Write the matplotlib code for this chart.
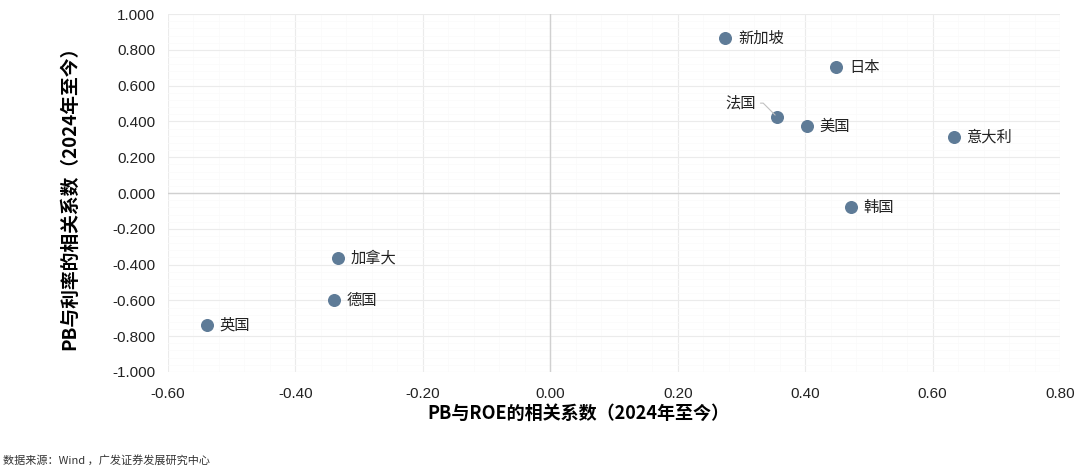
import matplotlib.pyplot as plt
from matplotlib.ticker import MultipleLocator, FormatStrFormatter

plt.rcParams['font.family'] = ['Noto Sans CJK SC', 'DejaVu Sans']

countries = ['新加坡', '日本', '法国', '美国', '意大利', '韩国', '加拿大', '德国', '英国']
pb_roe = [0.275, 0.449, 0.356, 0.403, 0.633, 0.472, -0.333, -0.339, -0.539]
pb_rate = [0.865, 0.704, 0.425, 0.374, 0.313, -0.078, -0.363, -0.598, -0.737]

fig = plt.figure(figsize=(10.8, 4.72), dpi=100)
ax = fig.add_axes([0.1555, 0.212, 0.826, 0.758])

ax.scatter(pb_roe, pb_rate, s=70, color='#5e7b97', zorder=3)

for name, x, y in zip(countries, pb_roe, pb_rate):
    if name == '法国':
        # label sits up-left of the point with a thin leader line
        ax.annotate(name, (x, y), xytext=(-15, 10), textcoords='offset points',
                    fontsize=11, color='#222222', ha='right', va='center',
                    arrowprops=dict(arrowstyle='-', color='#c0c0c0', lw=0.8,
                                    connectionstyle='angle,angleA=0,angleB=135,rad=0',
                                    shrinkA=1, shrinkB=2))
    else:
        ax.annotate(name, (x, y), xytext=(9, 0), textcoords='offset points',
                    fontsize=11, color='#222222', ha='left', va='center')

ax.set_xlim(-0.6, 0.8)
ax.set_ylim(-1.0, 1.0)
ax.xaxis.set_major_locator(MultipleLocator(0.2))
ax.yaxis.set_major_locator(MultipleLocator(0.2))
ax.xaxis.set_minor_locator(MultipleLocator(0.04))
ax.yaxis.set_minor_locator(MultipleLocator(0.04))
ax.xaxis.set_major_formatter(FormatStrFormatter('%.2f'))
ax.yaxis.set_major_formatter(FormatStrFormatter('%.3f'))
ax.tick_params(which='both', length=0, labelsize=11, colors='#222222')
ax.tick_params(axis='x', pad=11)
ax.tick_params(axis='y', pad=9)
for lab in ax.get_xticklabels() + ax.get_yticklabels():
    lab.set_family(['Liberation Sans', 'DejaVu Sans'])

ax.grid(which='major', color='#ebebeb', lw=0.8)
ax.grid(which='minor', color='#fafafa', lw=0.5)
ax.set_axisbelow(True)
for s in ax.spines.values():
    s.set_visible(False)
ax.axhline(0, color='#d0d0d0', lw=1.0, zorder=1)
ax.axvline(0, color='#d0d0d0', lw=1.0, zorder=1)

ax.set_xlabel('PB与ROE的相关系数（2024年至今）', fontsize=13, fontweight='bold')
ax.set_ylabel('PB与利率的相关系数（2024年至今）', fontsize=13.5, fontweight='bold')
ax.xaxis.set_label_coords(0.46, -0.09)
ax.yaxis.set_label_coords(-0.1, 0.5)

fig.text(0.003, 0.018, '数据来源：Wind ，广发证券发展研究中心', fontsize=8, color='#333333')

fig.savefig('out.png', dpi=100, facecolor='white')
